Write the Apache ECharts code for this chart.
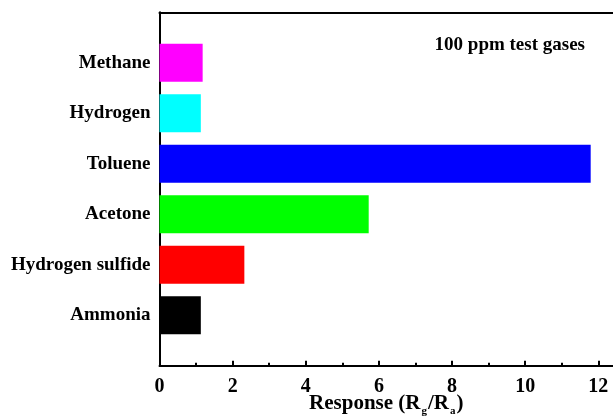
<!DOCTYPE html>
<html><head><meta charset="utf-8">
<script src="https://cdn.jsdelivr.net/npm/echarts@6/dist/echarts.min.js"></script>
<style>html,body{margin:0;padding:0;background:#fff}#c{width:613px;height:419px}</style>
</head><body><div id="c"></div>
<script>
const categories = ['Ammonia', 'Hydrogen sulfide', 'Acetone', 'Toluene', 'Hydrogen', 'Methane'];
const responses = [1.13, 2.32, 5.72, 11.79, 1.13, 1.18];
const barColors = ['#000000', '#ff0000', '#00ff00', '#0000ff', '#00ffff', '#ff00ff'];
const majorTicks = [0, 2, 4, 6, 8, 10, 12];
const minorTicks = [1, 3, 5, 7, 9, 11];
const titleText = '100 ppm test gases';

const FONT = '"Liberation Serif", "Times New Roman", serif';
const axisCats = [''].concat(categories, ['']);
const barData = [null].concat(responses.map((v, i) => ({value: v, itemStyle: {color: barColors[i]}})), [null]);

const chart = echarts.init(document.getElementById('c'), null, {renderer: 'canvas'});
chart.setOption({
  animation: false,
  backgroundColor: '#fff',
  title: {
    text: titleText, right: 23, top: 31,
    textStyle: {fontFamily: FONT, fontWeight: 'bold', fontSize: 19, color: '#000'}
  },
  grid: {left: 159.5, right: 0, top: 12.3, bottom: 53.3, containLabel: false, outerBoundsMode: 'none'},
  xAxis: [{
    type: 'value', min: 0, max: 12.4, position: 'bottom',
    splitLine: {show: false},
    axisLine: {show: true, lineStyle: {color: '#000', width: 2}},
    axisTick: {show: true, inside: true, length: 5, customValues: majorTicks, lineStyle: {color: '#000', width: 2}},
    axisLabel: {customValues: majorTicks, margin: 11, fontFamily: FONT, fontWeight: 'bold', fontSize: 20, color: '#000'},
    name: '{n|Response (R}{s|g}{n|/R}{s|a}{n|)}',
    nameLocation: 'middle', nameGap: 24, nameMoveOverlap: false,
    nameTextStyle: {
      rich: {
        n: {fontFamily: FONT, fontWeight: 'bold', fontSize: 21, color: '#000'},
        s: {fontFamily: FONT, fontWeight: 'bold', fontSize: 11, color: '#000', padding: [16, 1, 0, 1]}
      }
    }
  }, {
    type: 'value', min: 0, max: 12.4, position: 'bottom',
    splitLine: {show: false},
    axisLine: {show: false},
    axisTick: {show: true, inside: true, length: 3, customValues: minorTicks, lineStyle: {color: '#000', width: 2}},
    axisLabel: {show: false}
  }, {
    type: 'value', min: 0, max: 12.4, position: 'top',
    splitLine: {show: false},
    axisLine: {show: true, lineStyle: {color: '#000', width: 2}},
    axisTick: {show: false},
    axisLabel: {show: false}
  }],
  yAxis: {
    type: 'category', data: axisCats, boundaryGap: false,
    axisLine: {show: true, lineStyle: {color: '#000', width: 2}},
    axisTick: {show: false},
    splitLine: {show: false},
    axisLabel: {margin: 9, interval: 0, fontFamily: FONT, fontWeight: 'bold', fontSize: 19, color: '#000'}
  },
  series: [{
    type: 'bar', xAxisIndex: 0, data: barData, barWidth: 38
  }]
});
</script></body></html>
